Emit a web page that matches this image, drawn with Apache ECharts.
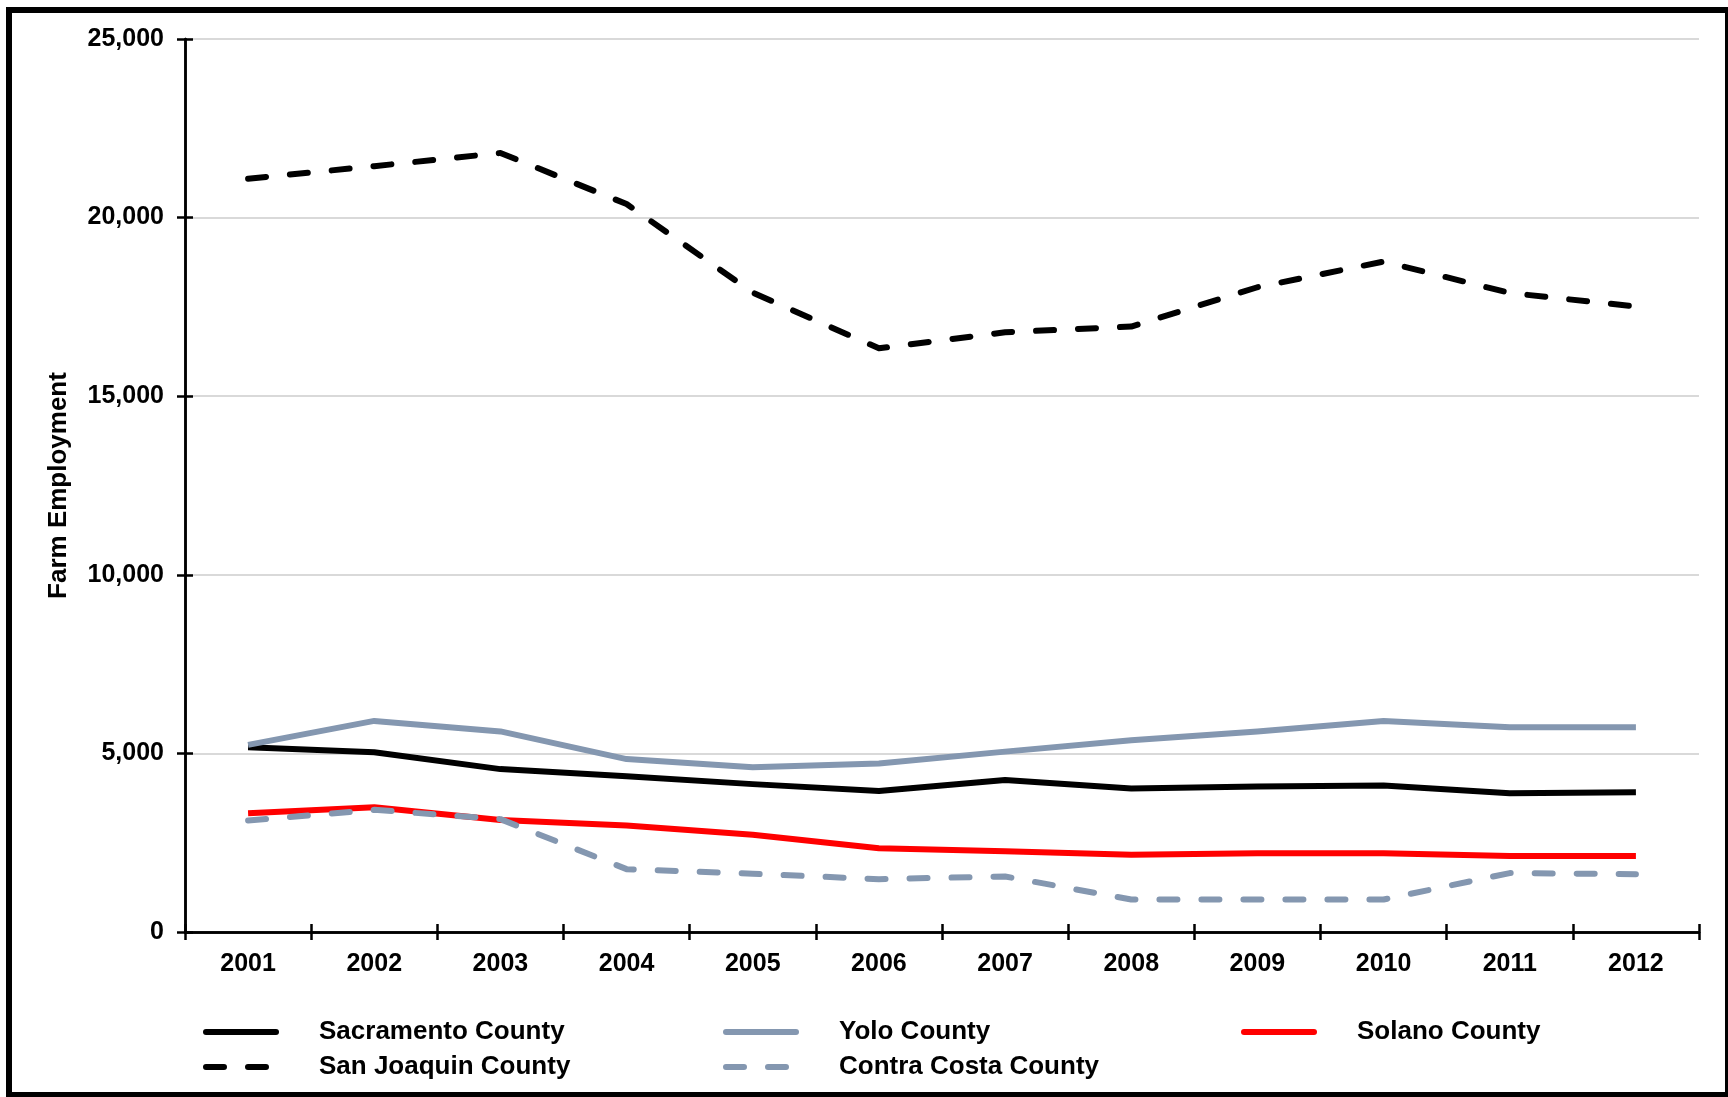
<!DOCTYPE html>
<html>
<head>
<meta charset="utf-8">
<style>
html,body{margin:0;padding:0;background:#fff;}
#c{width:1728px;height:1097px;}
</style>
<script src="https://cdn.jsdelivr.net/npm/echarts@6/dist/echarts.min.js"></script>
</head>
<body>
<div id="c"></div>
<script>
const years = ['2001','2002','2003','2004','2005','2006','2007','2008','2009','2010','2011','2012'];
const sacramento = [5170, 5030, 4560, 4360, 4140, 3945, 4255, 4020, 4070, 4100, 3885, 3910];
const yolo = [5240, 5910, 5615, 4840, 4610, 4720, 5050, 5370, 5615, 5910, 5730, 5730];
const solano = [3325, 3495, 3135, 2980, 2725, 2345, 2260, 2160, 2205, 2205, 2125, 2125];
const sanJoaquin = [21090, 21440, 21810, 20380, 17900, 16340, 16790, 16950, 18050, 18770, 17890, 17510];
const contraCosta = [3120, 3420, 3160, 1760, 1630, 1480, 1555, 910, 910, 910, 1650, 1620];
const yTicks = [0, 5000, 10000, 15000, 20000, 25000];

const FONT = 'Liberation Sans, Arial, sans-serif';
const GRAY = '#8497b0';
const DASH = [18, 24];
const LW = 6;

function mk(name, data, color, dashed) {
  return {
    name, type: 'line', data, symbol: 'none', smooth: false,
    lineStyle: { color, width: LW, type: dashed ? DASH : 'solid', cap: dashed ? 'round' : 'butt', join: 'round' },
    itemStyle: { color },
    emphasis: { disabled: true }
  };
}

function legendAt(name, left, top, color, dashed) {
  return {
    data: [name], left, top, padding: 0, orient: 'horizontal',
    itemWidth: 70, itemHeight: 14, selectedMode: false,
    itemStyle: { opacity: 0 },
    lineStyle: { color, width: 6, type: dashed ? DASH : 'solid', cap: 'round', opacity: 1 },
    textStyle: { fontFamily: FONT, fontSize: 26, fontWeight: 'bold', color: '#000', lineHeight: 28, padding: [0, 0, 0, 38] }
  };
}

const chart = echarts.init(document.getElementById('c'), null, { renderer: 'canvas' });
const xBase = {
  type: 'category', data: years, boundaryGap: true, position: 'bottom',
  axisLine: { onZero: false, lineStyle: { color: '#000', width: 2.5 } }
};
const yBase = {
  type: 'value', min: yTicks[0], max: yTicks[yTicks.length - 1], interval: 5000, position: 'left',
  axisLine: { show: true, lineStyle: { color: '#000', width: 2.5 } }
};
chart.setOption({
  animation: false,
  backgroundColor: '#fff',
  grid: { left: 185, right: 29, top: 39, bottom: 165, containLabel: false },
  xAxis: [
    Object.assign({}, xBase, {
      axisTick: { show: true, inside: false, length: 8, alignWithLabel: false, lineStyle: { color: '#000', width: 2.5 } },
      axisLabel: { margin: 20, fontFamily: FONT, fontSize: 25, fontWeight: 'bold', color: '#000' },
      splitLine: { show: false }
    }),
    Object.assign({}, xBase, {
      axisTick: { show: true, inside: true, length: 8, lineStyle: { color: '#000', width: 2.5 } },
      axisLabel: { show: false }, splitLine: { show: false }
    })
  ],
  yAxis: [
    Object.assign({}, yBase, {
      name: 'Farm Employment', nameLocation: 'middle', nameGap: 113, nameRotate: 90,
      nameTextStyle: { fontFamily: FONT, fontSize: 26, fontWeight: 'bold', color: '#000' },
      axisTick: { show: true, inside: false, length: 8, lineStyle: { color: '#000', width: 2.5 } },
      axisLabel: {
        margin: 21, fontFamily: FONT, fontSize: 25, fontWeight: 'bold', color: '#000',
        formatter: v => v.toLocaleString('en-US')
      },
      splitLine: { show: true, lineStyle: { color: '#d9d9d9', width: 2 } }
    }),
    Object.assign({}, yBase, {
      axisTick: { show: true, inside: true, length: 8, lineStyle: { color: '#000', width: 2.5 } },
      axisLabel: { show: false }, splitLine: { show: false }
    })
  ],
  legend: [
    legendAt('Sacramento County', 203, 1018, '#000000', false),
    legendAt('Yolo County', 723, 1018, GRAY, false),
    legendAt('Solano County', 1241, 1018, '#ff0000', false),
    legendAt('San Joaquin County', 203, 1053, '#000000', true),
    legendAt('Contra Costa County', 723, 1053, GRAY, true)
  ],
  graphic: [{
    type: 'rect', silent: true, z: 100,
    shape: { x: 9, y: 10, width: 1719, height: 1085 },
    style: { fill: 'none', stroke: '#000', lineWidth: 6 }
  }],
  series: [
    mk('Sacramento County', sacramento, '#000000', false),
    mk('Yolo County', yolo, GRAY, false),
    mk('Solano County', solano, '#ff0000', false),
    mk('San Joaquin County', sanJoaquin, '#000000', true),
    mk('Contra Costa County', contraCosta, GRAY, true)
  ]
});
</script>
</body>
</html>
